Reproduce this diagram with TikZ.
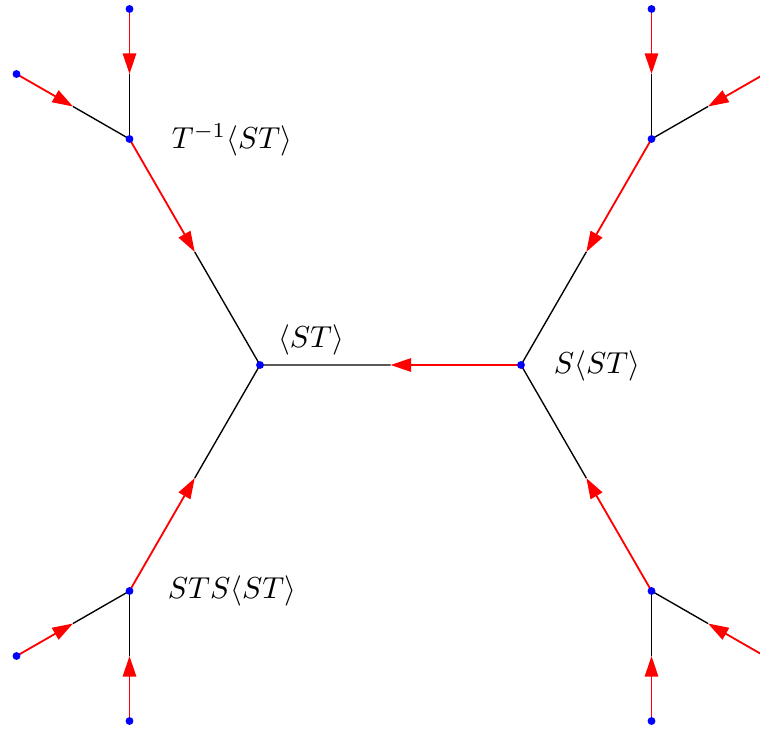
\documentclass[tikz,border=0pt]{standalone}
\usetikzlibrary{calc,arrows.meta}
\begin{document}
\begin{tikzpicture}[x=0.33pt,y=-0.33pt,
  redhalf/.style={draw=red,line width=0.6pt,-{Triangle[length=6.8pt,width=4.4pt]}},
  blackhalf/.style={draw=black,line width=0.45pt},
  dotmark/.style={fill=blue},
  lbl/.style={inner sep=0pt}]
\useasboundingbox (0,0) rectangle (760,729);
\clip (0,0) rectangle (760,729);
% vertices
\coordinate (c1) at (260,365);
\coordinate (c2) at (521,365);
\coordinate (tl) at (129.5,139);
\coordinate (bl) at (129.5,591);
\coordinate (tr) at (651.5,139);
\coordinate (br) at (651.5,591);
% leaves
\coordinate (tlu) at (129.5,9);
\coordinate (tlo) at (16.5,74);
\coordinate (bld) at (129.5,721);
\coordinate (blo) at (16.5,656);
\coordinate (tru) at (651.5,9);
\coordinate (tro) at (764.5,74);
\coordinate (brd) at (651.5,721);
\coordinate (bro) at (764.5,656);
% edges: red outer half with arrow, black inner half
\foreach \o/\i/\m in {c2/c1/m0, tl/c1/m1, bl/c1/m2, tr/c2/m3, br/c2/m4,
  tlu/tl/m5, tlo/tl/m6, bld/bl/m7, blo/bl/m8, tru/tr/m9, tro/tr/m10, brd/br/m11, bro/br/m12}{
  \coordinate (\m) at ($(\o)!0.5!(\i)$);
  \draw[blackhalf] (\m) -- (\i);
  \draw[redhalf] (\o) -- (\m);
}
% dots
\foreach \p in {c1,c2,tl,bl,tr,br,tlu,tlo,bld,blo,tru,tro,brd,bro}{
  \fill[dotmark] (\p) circle (1.3pt);
}
% labels
\node[lbl] (l1) at (232,140) {$T^{-1}\langle ST\rangle$};
\node[lbl] (l2) at (311,340) {$\langle ST\rangle$};
\node[lbl] (l3) at (597,366) {$S\langle ST\rangle$};
\node[lbl] (l4) at (232,591) {$STS\langle ST\rangle$};
\end{tikzpicture}
\end{document}
